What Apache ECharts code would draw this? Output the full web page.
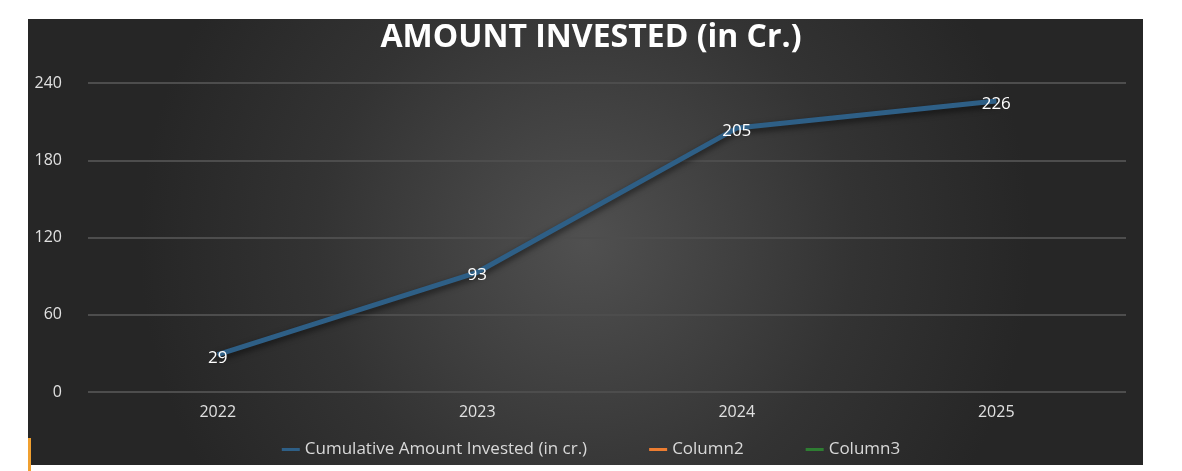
<!DOCTYPE html>
<html><head><meta charset="utf-8">
<script src="https://cdn.jsdelivr.net/npm/echarts@6/dist/echarts.min.js"></script>
<style>html,body{margin:0;padding:0;background:#fff}#c{width:1182px;height:471px}</style>
</head><body><div id="c"></div>
<script>
const categories = ['2022','2023','2024','2025'];
const cumulative = [29, 93, 205, 226];
const column2 = [];
const column3 = [];
const yTicks = [0, 60, 120, 180, 240];

const chart = echarts.init(document.getElementById('c'));
const font = '"Open Sans", "Noto Sans", sans-serif';
chart.setOption({
  animation: false,
  graphic: [
    { type: 'rect', z: -10, shape: { x: 28, y: 19, width: 1115, height: 446 },
      style: { fill: new echarts.graphic.RadialGradient(0.5, 0.5, 1.0, [
        { offset: 0, color: '#505050' }, { offset: 0.6, color: '#333333' }, { offset: 1, color: '#262626' }]) } },
    { type: 'rect', z: 10, shape: { x: 28, y: 438, width: 3, height: 33 }, style: { fill: '#f0a030' } }
  ],
  title: { text: 'AMOUNT INVESTED (in Cr.)', left: 'center', top: 17,
    textStyle: { color: '#fff', fontSize: 32, fontWeight: 'bold', fontFamily: font } },
  legend: { bottom: 8, left: 'center', itemWidth: 18, itemHeight: 3, itemGap: 62, icon: 'rect',
    textStyle: { color: '#d9d9d9', fontSize: 17, fontFamily: font },
    data: ['Cumulative Amount Invested (in cr.)', 'Column2', 'Column3'] },
  grid: { left: 88, right: 56, top: 83, bottom: 79 },
  xAxis: { type: 'category', data: categories, boundaryGap: true,
    axisLine: { show: false }, axisTick: { show: false },
    axisLabel: { color: '#e0e0e0', fontSize: 16, fontFamily: font, margin: 12 } },
  yAxis: { type: 'value', min: yTicks[0], max: yTicks[yTicks.length-1], interval: 60,
    axisLabel: { color: '#e0e0e0', fontSize: 16, fontFamily: font, margin: 26 },
    splitLine: { lineStyle: { color: '#4d4d4d', width: 2 } } },
  series: [
    { name: 'Cumulative Amount Invested (in cr.)', type: 'line', data: cumulative, symbol: 'circle', symbolSize: 1,
      showSymbol: true, color: '#2e5f86',
      lineStyle: { width: 5, color: '#2e5f86', shadowColor: 'rgba(0,0,0,0.6)', shadowBlur: 6, shadowOffsetY: 3 },
      label: { show: true, position: 'top', distance: 0, offset: [0, 12], color: '#fff', fontSize: 17, fontFamily: font } },
    { name: 'Column2', type: 'line', data: column2, color: '#ed7d31' },
    { name: 'Column3', type: 'line', data: column3, color: '#2e7d32' }
  ]
});
</script></body></html>
